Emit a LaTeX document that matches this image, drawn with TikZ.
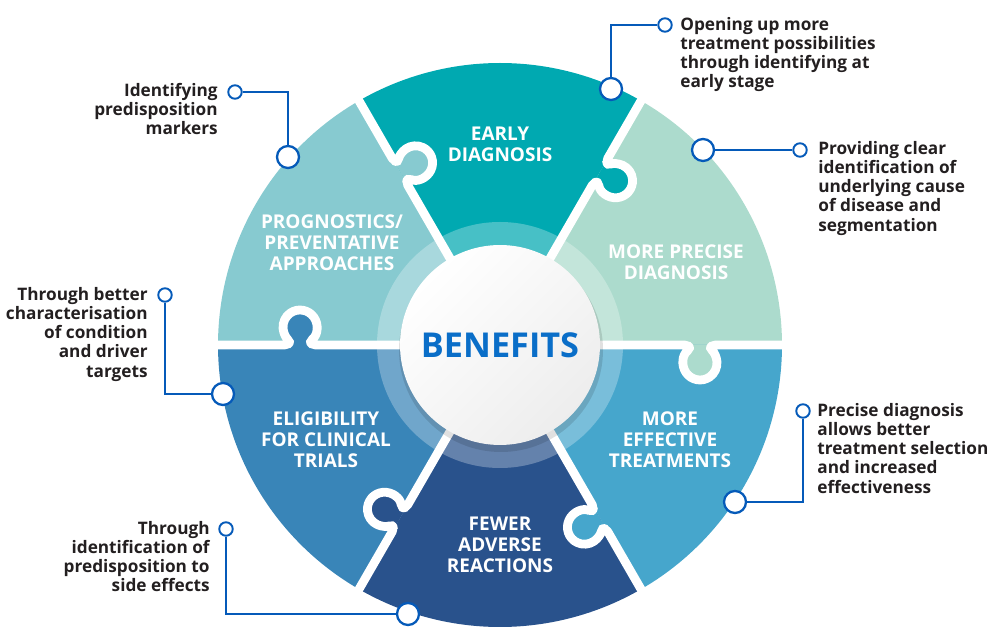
\documentclass[tikz,border=0pt]{standalone}
\usepackage{fontspec}
\setmainfont{Open Sans}
\usepackage{tikz}
\usetikzlibrary{positioning, calc}
\definecolor{earlyTeal}{RGB}{0,169,177}
\definecolor{preciseMint}{RGB}{172,219,205}
\definecolor{effectBlue}{RGB}{70,166,204}
\definecolor{fewerBlue}{RGB}{41,82,140}
\definecolor{eligBlue}{RGB}{57,133,184}
\definecolor{prognTeal}{RGB}{135,202,208}
\definecolor{lineBlue}{RGB}{5,90,185}
\definecolor{noteGray}{RGB}{35,31,32}
\definecolor{hubBlue}{RGB}{10,110,200}

\begin{document}
\begin{tikzpicture}[
    x=0.02cm, y=0.02cm,
    piece/.style={font=\bfseries\fontsize{10.8}{12}\selectfont, text=white, align=center, inner sep=0pt},
    note/.style={font=\bfseries\fontsize{9.8}{10.9}\selectfont, text=noteGray, inner sep=0pt},
    bigdot/.style={circle, draw=lineBlue, fill=white, line width=1.3pt, minimum size=0.44cm, inner sep=0pt},
    smalldot/.style={circle, draw=lineBlue, fill=white, line width=1.1pt, minimum size=0.27cm, inner sep=0pt},
    callout/.style={draw=lineBlue, line width=1.1pt},
    seam/.style={draw=white, line width=5pt, line join=round, rounded corners=2pt},
    hub/.style={circle, minimum size=4cm, inner sep=0pt, left color=white, right color=gray!14, shading angle=45, font=\bfseries\fontsize{19.5}{24}\selectfont, text=hubBlue}
]
\useasboundingbox (0,0) rectangle (1000,642);

% Puzzle pieces
\foreach \a/\col in {0/preciseMint, 60/earlyTeal, 120/prognTeal, 180/eligBlue, 240/fewerBlue, 300/effectBlue}{
  \fill[\col, shift={(500,297)}] (0,0) -- (\a:282) arc[start angle=\a, end angle=\a+60, radius=282] -- cycle;
}

% Tabs and seams
\foreach \a/\col in {0/preciseMint, 60/earlyTeal, 120/prognTeal, 180/eligBlue, 240/fewerBlue, 300/effectBlue}{
  \begin{scope}[shift={(500,297)}, rotate=\a]
    \fill[\col] (188,0) -- (190.25,-4.07) arc[start angle=125, end angle=415, radius=17] -- (212,0) -- cycle;
    \draw[seam] (0,0) -- (188,0) -- (190.25,-4.07) arc[start angle=125, end angle=415, radius=17] -- (212,0) -- (292,0);
  \end{scope}
}

% Centre
\fill[white, opacity=.28] (500,297) circle[radius=123];
\fill[black, opacity=.12] (501,292) circle[radius=102];
\node[hub] (hub) at (500,297) {BENEFITS};

% Piece labels
\node[piece] (early) at (500,498) {EARLY\\DIAGNOSIS};
\node[piece] (precise) at (676,380) {MORE PRECISE\\DIAGNOSIS};
\node[piece] (effective) at (670,202) {MORE\\EFFECTIVE\\TREATMENTS};
\node[piece] (fewer) at (500,97) {FEWER\\ADVERSE\\REACTIONS};
\node[piece] (eligibility) at (326,202) {ELIGIBILITY\\FOR CLINICAL\\TRIALS};
\node[piece] (prognostics) at (332,399) {PROGNOSTICS/\\PREVENTATIVE\\APPROACHES};

% Callouts
\node[bigdot] (d1) at (611,553) {};
\node[smalldot] (s1) at (665,617) {};
\node[note, anchor=north west, align=left] (t1) at (680,625) {Opening up more\\treatment possibilities\\through identifying at\\early stage};

\node[bigdot] (d2) at (703,492) {};
\node[smalldot] (s2) at (800,492) {};
\node[note, anchor=north west, align=left] (t2) at (818,501) {Providing clear\\identification of\\underlying cause\\of disease and\\segmentation};

\node[bigdot] (d3) at (288,485) {};
\node[smalldot] (s3) at (235,550) {};
\node[note, anchor=north east, align=right] (t3) at (218,559) {Identifying\\predisposition\\markers};

\node[bigdot] (d4) at (223,248) {};
\node[smalldot] (s4) at (165,347) {};
\node[note, anchor=north east, align=right] (t4) at (148,355) {Through better\\characterisation\\of condition\\and driver\\targets};

\node[bigdot] (d5) at (735,140) {};
\node[smalldot] (s5) at (803,231) {};
\node[note, anchor=north west, align=left] (t5) at (817,239) {Precise diagnosis\\allows better\\treatment selection\\and increased\\effectiveness};

\node[bigdot] (d6) at (408,28) {};
\node[smalldot] (s6) at (226,113) {};
\node[note, anchor=north east, align=right] (t6) at (210,121) {Through\\identification of\\predisposition to\\side effects};

\draw[callout] (d1) |- (s1);
\draw[callout] (d2) -- (s2);
\draw[callout] (d3) |- (s3);
\draw[callout] (s4) |- (d4);
\draw[callout] (s5) |- (d5);
\draw[callout] (s6) |- (d6);

\end{tikzpicture}
\end{document}
